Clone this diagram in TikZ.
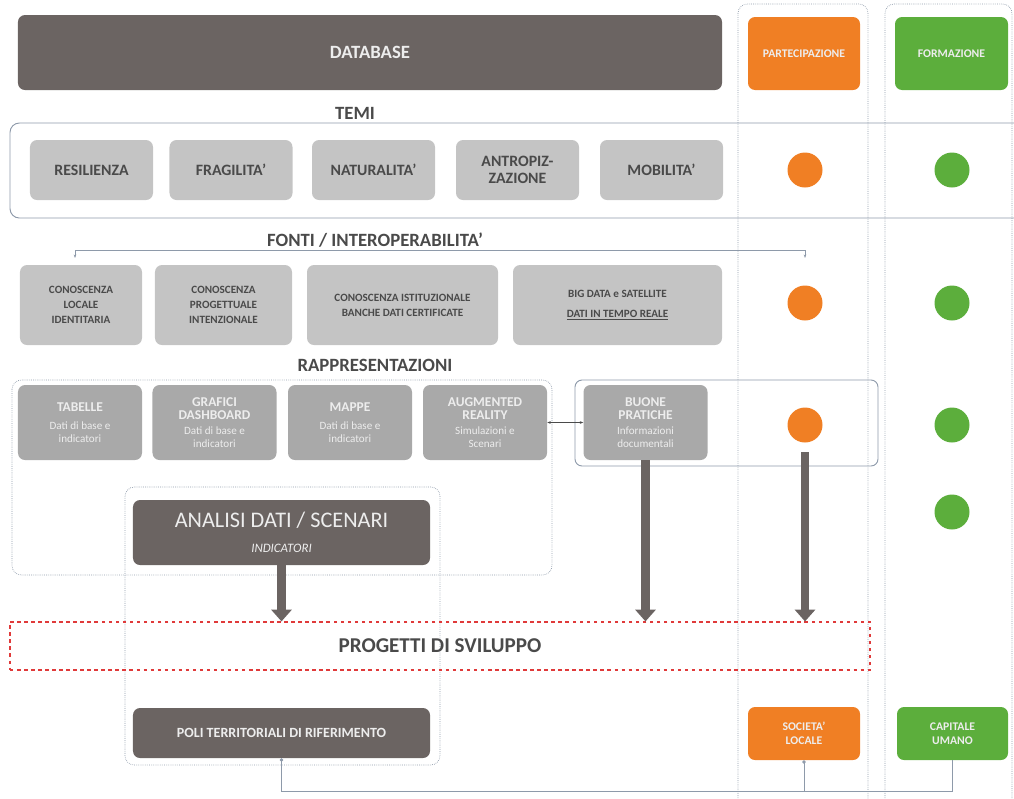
\documentclass[tikz,border=0pt]{standalone}
\usepackage{fontspec}
\setmainfont{Carlito}
\usepackage{tikz}
\usetikzlibrary{arrows.meta,positioning,calc}
\definecolor{slate}{HTML}{6B6462}
\definecolor{pale}{HTML}{C4C4C4}
\definecolor{mid}{HTML}{A9A9A9}
\definecolor{ink}{HTML}{4A4A4A}
\definecolor{chalk}{HTML}{EDEDED}
\definecolor{tang}{HTML}{F07F24}
\definecolor{leaf}{HTML}{5CAE3C}
\definecolor{frame}{HTML}{8E9AAA}
\definecolor{alert}{HTML}{E03A3A}
\newcommand{\reptitle}{\fontsize{11.5}{13}\selectfont\bfseries}

\begin{document}
\begin{tikzpicture}[x=0.03cm, y=-0.03cm,
  darkbox/.style={fill=slate, rounded corners=6pt, text=chalk, align=center},
  themebox/.style={fill=pale, rounded corners=6pt, text=ink, align=center,
    font=\fontsize{13.5}{15}\selectfont\bfseries, minimum width=3.69cm, minimum height=1.8cm},
  srcbox/.style={fill=pale, rounded corners=6pt, text=ink, align=center,
    font=\fontsize{9.5}{13}\selectfont\bfseries, minimum height=2.4cm},
  repbox/.style={fill=mid, rounded corners=6pt, text=chalk, align=center,
    font=\fontsize{9.5}{11}\selectfont, minimum width=3.72cm, minimum height=2.25cm, inner sep=2pt},
  colorbox/.style={rounded corners=6pt, text=chalk, align=center,
    font=\fontsize{10}{12}\selectfont\bfseries, minimum width=3.36cm},
  dot/.style={circle, minimum size=1.05cm, inner sep=0pt},
  caption/.style={font=\fontsize{16}{18}\selectfont\bfseries, text=ink},
  bigarrow/.style={slate, line width=7.5pt, -{Triangle[width=17pt,length=10pt]}},
  dotframe/.style={frame, densely dotted, line width=0.6pt, rounded corners=8pt}]
  \useasboundingbox (0,0) rectangle (1014,798);

  % column frames
  \draw[dotframe] (738,4) rectangle (868,815);
  \draw[dotframe] (885,4) rectangle (1012,815);

  % header row
  \node[darkbox, minimum width=21.12cm, minimum height=2.25cm,
        font=\fontsize{16}{18}\selectfont\bfseries] (db) at (370,52.5) {DATABASE};
  \node[colorbox, fill=tang, minimum height=2.19cm] (part) at (804,53.5) {PARTECIPAZIONE};
  \node[colorbox, fill=leaf, minimum height=2.19cm, minimum width=3.39cm] (form) at (951.5,53.5) {FORMAZIONE};

  % temi
  \node[caption] (temi) at (355,113) {TEMI};
  \draw[frame, line width=0.8pt, rounded corners=8pt] (1030,123) -- (10,123) -- (10,218) -- (1030,218);
  \node[themebox] (t1) at (91.5,170) {RESILIENZA};
  \node[themebox] (t2) at (231,170) {FRAGILITA'};
  \node[themebox] (t3) at (373.5,170) {NATURALITA'};
  \node[themebox] (t4) at (517.5,170) {ANTROPIZ-\\ZAZIONE};
  \node[themebox] (t5) at (661.5,170) {MOBILITA'};
  \node[dot, fill=tang] (o1) at (805,170) {};
  \node[dot, fill=leaf] (g1) at (952,170) {};

  % fonti
  \node[caption] (fonti) at (375,240) {FONTI / INTEROPERABILITA'};
  \coordinate (fL) at (75,258);
  \coordinate (fR) at (805,258);
  \draw[frame, line width=0.6pt, {Stealth[length=3pt]}-{Stealth[length=3pt]}]
        (fL) -- ++(0,-8) -| (fR);
  \node[srcbox, minimum width=3.66cm] (s1) at (81,305) {CONOSCENZA\\LOCALE\\IDENTITARIA};
  \node[srcbox, minimum width=4.11cm] (s2) at (223.5,305) {CONOSCENZA\\PROGETTUALE\\INTENZIONALE};
  \node[srcbox, minimum width=5.73cm] (s3) at (402.5,305) {CONOSCENZA ISTITUZIONALE\\BANCHE DATI CERTIFICATE};
  \node[srcbox, minimum width=6.27cm] (s4) at (617.5,305) {BIG DATA e SATELLITE\\[4pt]\underline{DATI IN TEMPO REALE}};
  \node[dot, fill=tang] (o2) at (805,303) {};
  \node[dot, fill=leaf] (g2) at (952,303) {};

  % rappresentazioni
  \node[caption] (rapp) at (375,365) {RAPPRESENTAZIONI};
  \draw[dotframe] (12,380) rectangle (552,575);
  \draw[frame, line width=0.8pt, rounded corners=6pt] (575,380) rectangle (878,466);
  \node[repbox] (r1) at (80,422.5) {\reptitle TABELLE\\[4pt]Dati di base e\\indicatori};
  \node[repbox] (r2) at (214.5,422.5) {\reptitle GRAFICI\\\reptitle DASHBOARD\\[2pt]Dati di base e\\indicatori};
  \node[repbox] (r3) at (350,422.5) {\reptitle MAPPE\\[4pt]Dati di base e\\indicatori};
  \node[repbox] (r4) at (485,422.5) {\reptitle AUGMENTED\\\reptitle REALITY\\[2pt]Simulazioni e\\Scenari};
  \node[repbox] (r5) at (645.5,422.5) {\reptitle BUONE\\\reptitle PRATICHE\\[2pt]Informazioni\\documentali};
  \draw[ink, line width=0.5pt, {Stealth[length=3pt]}-{Stealth[length=3pt]}] (r4.east) -- (r5.west);
  \node[dot, fill=tang] (o3) at (805,425) {};
  \node[dot, fill=leaf] (g3) at (952,425) {};
  \node[dot, fill=leaf] (g4) at (952,512) {};

  % analisi e poli
  \draw[dotframe] (125,487) rectangle (440,765);
  \node[darkbox, minimum width=8.91cm, minimum height=1.95cm,
        font=\fontsize{19}{21}\selectfont] (ana) at (281.5,532.5)
        {ANALISI DATI / SCENARI\\\fontsize{11}{12}\selectfont\itshape INDICATORI};

  % progetti
  \node[draw=alert, dashed, line width=1pt, minimum width=25.8cm, minimum height=1.44cm,
        font=\fontsize{18}{20}\selectfont\bfseries, text=ink] (prog) at (440,646) {PROGETTI DI SVILUPPO};
  \coordinate (o3low) at (805,452);
  \draw[bigarrow] (ana.south) -- (ana.south |- prog.north);
  \draw[bigarrow] (r5.south) -- (r5.south |- prog.north);
  \draw[bigarrow] (o3low) -- (o3low |- prog.north);

  % esiti
  \node[darkbox, minimum width=8.91cm, minimum height=1.5cm,
        font=\fontsize{12}{14}\selectfont\bfseries] (poli) at (281.5,733) {POLI TERRITORIALI DI RIFERIMENTO};
  \node[colorbox, fill=tang, minimum height=1.59cm] (soc) at (804,733.5) {SOCIETA'\\LOCALE};
  \node[colorbox, fill=leaf, minimum height=1.59cm, minimum width=3.33cm] (cap) at (952.5,733.5) {CAPITALE\\UMANO};
  \coordinate (base) at (0,791);
  \draw[frame, line width=0.6pt, {Circle[length=3pt]}-] (poli.south) -- (poli.south |- base) -| (cap.south);
  \draw[frame, line width=0.6pt, {Circle[length=3pt]}-] (soc.south) -- (soc.south |- base);
\end{tikzpicture}
\end{document}
